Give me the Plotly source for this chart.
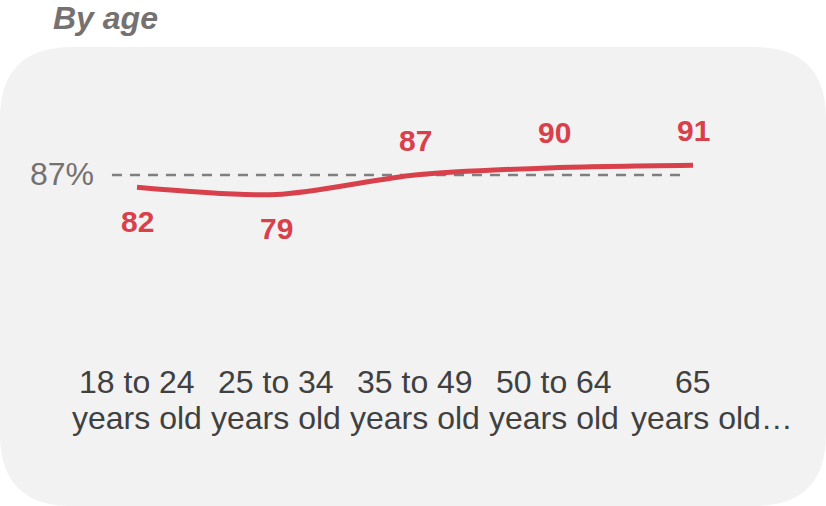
import plotly.graph_objects as go

# Share by age group (percent)
age_groups = ["18 to 24\nyears old", "25 to 34\nyears old", "35 to 49\nyears old",
              "50 to 64\nyears old", "65\nyears old…"]
values = [82, 79, 87, 90, 91]
overall = 87
overall_label = "87%"
title_text = "By age"

W, H = 826, 506
RED = "#d8414b"
GRAY = "#767171"
DARK = "#404040"
FONT = "Liberation Sans, Arial"

xs = list(range(len(age_groups)))

fig = go.Figure()

# Reference line for the overall share
fig.add_trace(go.Scatter(
    x=[-0.18, 3.93], y=[overall, overall], mode="lines",
    line=dict(color="#7f7f7f", width=2.5, dash="10px,8px"),
    hoverinfo="skip", showlegend=False,
))

# Smoothed series line
fig.add_trace(go.Scatter(
    x=xs, y=values, mode="lines",
    line=dict(color=RED, width=5, shape="spline", smoothing=0.8),
    showlegend=False,
))

annotations = []
# Value labels: below the line when under the overall share, above otherwise
for i, v in enumerate(values):
    below = v < overall
    annotations.append(dict(
        x=i, y=v, xref="x", yref="y", text=f"<b>{v}</b>", showarrow=False,
        font=dict(family=FONT, size=30, color=RED),
        yanchor="middle", xanchor="center", yshift=-34 if below else 35,
    ))

# Overall label to the left of the reference line
annotations.append(dict(
    x=-0.18, y=overall, xref="x", yref="y", text=overall_label, showarrow=False,
    font=dict(family=FONT, size=32, color=GRAY),
    xanchor="right", yanchor="middle", xshift=-16, yshift=1,
))

# Two-line category labels
for i, lab in enumerate(age_groups):
    first, second = lab.split("\n")
    annotations.append(dict(
        x=i, y=1 - 382 / H, xref="x", yref="paper", text=first, showarrow=False,
        font=dict(family=FONT, size=32, color=DARK),
        xanchor="center", yanchor="middle",
    ))
    annotations.append(dict(
        x=i, y=1 - 418 / H, xref="x", yref="paper", text=second, showarrow=False,
        font=dict(family=FONT, size=32, color=DARK),
        xanchor="center", yanchor="middle", xshift=19 if second.endswith("…") else 0,
    ))

# Section title
annotations.append(dict(
    x=51 / W, y=1 - 18 / H, xref="paper", yref="paper",
    text=f"<b><i>{title_text}</i></b>", showarrow=False,
    font=dict(family=FONT, size=32, color=GRAY),
    xanchor="left", yanchor="middle",
))

# Rounded panel behind the chart
x0, x1 = 0.0, 1.0
y0, y1 = 1 - 506 / H, 1 - 47 / H
rx, ry = 72 / W, 72 / H
panel = (f"M {x0+rx},{y1} L {x1-rx},{y1} Q {x1},{y1} {x1},{y1-ry} "
         f"L {x1},{y0+ry} Q {x1},{y0} {x1-rx},{y0} L {x0+rx},{y0} "
         f"Q {x0},{y0} {x0},{y0+ry} L {x0},{y1-ry} Q {x0},{y1} {x0+rx},{y1} Z")

px_per_cat = 139.0
x_origin = 137.0
y_ref_px = 175.0
px_per_unit = 2.45

fig.update_layout(
    width=W, height=H,
    margin=dict(l=0, r=0, t=0, b=0),
    paper_bgcolor="white", plot_bgcolor="rgba(0,0,0,0)",
    shapes=[dict(type="path", path=panel, xref="paper", yref="paper",
                 fillcolor="#f2f2f2", line=dict(width=0), layer="below")],
    annotations=annotations,
    xaxis=dict(range=[-x_origin / px_per_cat, (W - x_origin) / px_per_cat],
               visible=False, fixedrange=True),
    yaxis=dict(range=[overall - (H - y_ref_px) / px_per_unit, overall + y_ref_px / px_per_unit],
               visible=False, fixedrange=True),
    showlegend=False,
)

fig.write_html("out.html")
